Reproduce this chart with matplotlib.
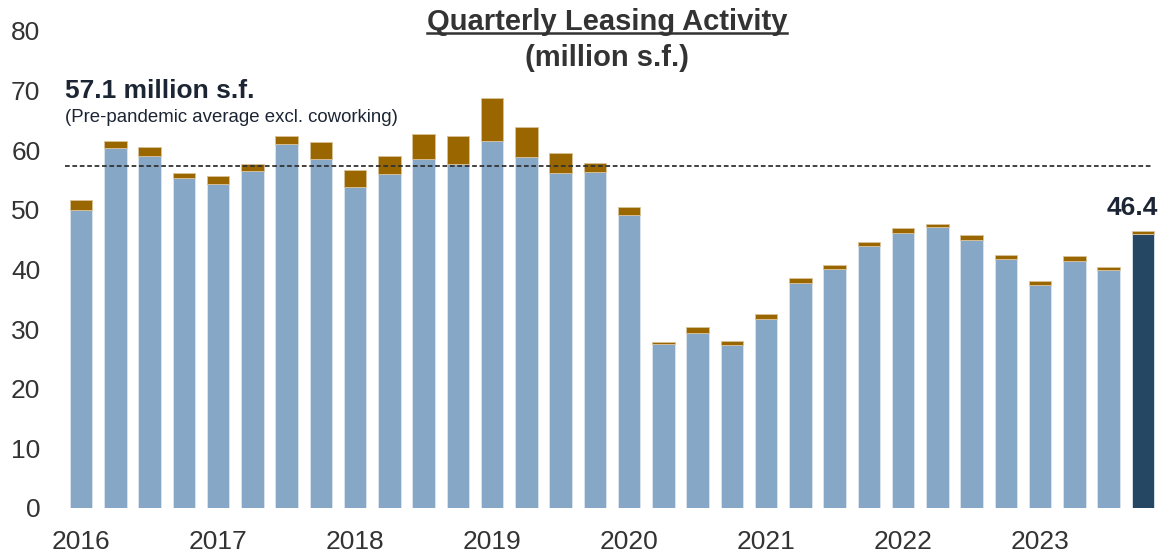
import matplotlib
matplotlib.use("Agg")
import matplotlib.pyplot as plt
from matplotlib.lines import Line2D
import numpy as np

plt.rcParams['font.family'] = ['Liberation Sans', 'DejaVu Sans']

quarters = [f"{y} Q{q}" for y in range(2016, 2024) for q in range(1, 5)]
year_labels = ["2016", "2017", "2018", "2019", "2020", "2021", "2022", "2023"]

# base leasing excluding coworking (million s.f.)
base = [49.9, 60.4, 59.1, 55.3, 54.4, 56.5, 61.0, 58.6,
        53.9, 56.0, 58.6, 57.7, 61.6, 58.8, 56.1, 56.3,
        49.1, 27.5, 29.3, 27.3, 31.7, 37.7, 40.0, 43.9,
        46.2, 47.1, 44.9, 41.7, 37.4, 41.5, 39.9, 46.0]
# coworking leasing (million s.f.)
cowork = [1.7, 1.1, 1.5, 0.8, 1.3, 1.2, 1.4, 2.8,
          2.8, 3.0, 4.2, 4.7, 7.1, 5.1, 3.5, 1.6,
          1.4, 0.3, 1.0, 0.7, 0.9, 0.9, 0.7, 0.7,
          0.8, 0.6, 0.8, 0.8, 0.6, 0.7, 0.5, 0.5]
avg_line = 57.3
last_label = "46.4"

base_colors = ['#86A8C6'] * (len(base) - 1) + ['#254764']
cowork_color = '#996600'

fig = plt.figure(figsize=(11.6, 5.53), dpi=100)
ax = fig.add_axes([0.0552, 0.0814, 0.9448, 0.8626])

x = np.arange(len(base))
w = 0.66
ax.bar(x, base, width=w, color=base_colors, edgecolor='#DCE6EF', linewidth=0.6, zorder=2)
ax.bar(x, cowork, width=w, bottom=base, color=cowork_color, edgecolor='#D9C29A',
       linewidth=0.6, zorder=2)

ax.set_xlim(-0.5, len(base) - 0.5)
ax.set_ylim(0, 80)
for s in ax.spines.values():
    s.set_visible(False)

ax.set_yticks(range(0, 81, 10))
ax.tick_params(axis='y', length=0, labelsize=19, colors='#333333', pad=17)
ax.set_xticks(x[::4])
ax.set_xticklabels(year_labels)
ax.tick_params(axis='x', length=0, labelsize=19, colors='#333333', pad=16)

ax.plot([-0.48, 31.3], [avg_line, avg_line], color='#333333', lw=1.3,
        linestyle=(0, (2.6, 1.5)), zorder=3)

ax.text(-0.48, 70.0, "57.1 million s.f.", fontsize=19, fontweight='bold',
        color='#1C2533', ha='left', va='center')
ax.text(-0.48, 65.5, "(Pre-pandemic average excl. coworking)", fontsize=13.4,
        color='#1C2533', ha='left', va='center')

ax.text(x[-1] - 0.3, 50.3, last_label, fontsize=19, fontweight='bold',
        color='#1C2533', ha='center', va='center')

t = fig.text(607 / 1160, 1 - 22 / 553, "Quarterly Leasing Activity", fontsize=21,
             fontweight='bold', color='#333333', ha='center', va='center')
fig.text(607 / 1160, 1 - 58 / 553, "(million s.f.)", fontsize=21,
         fontweight='bold', color='#333333', ha='center', va='center')

fig.canvas.draw()
bb = t.get_window_extent(renderer=fig.canvas.get_renderer())
yline = (bb.y0 + 3) / fig.bbox.height
fig.add_artist(Line2D([bb.x0 / fig.bbox.width, bb.x1 / fig.bbox.width], [yline, yline],
                      transform=fig.transFigure, color='#333333', lw=1.8))

fig.savefig("out.png", dpi=100)
